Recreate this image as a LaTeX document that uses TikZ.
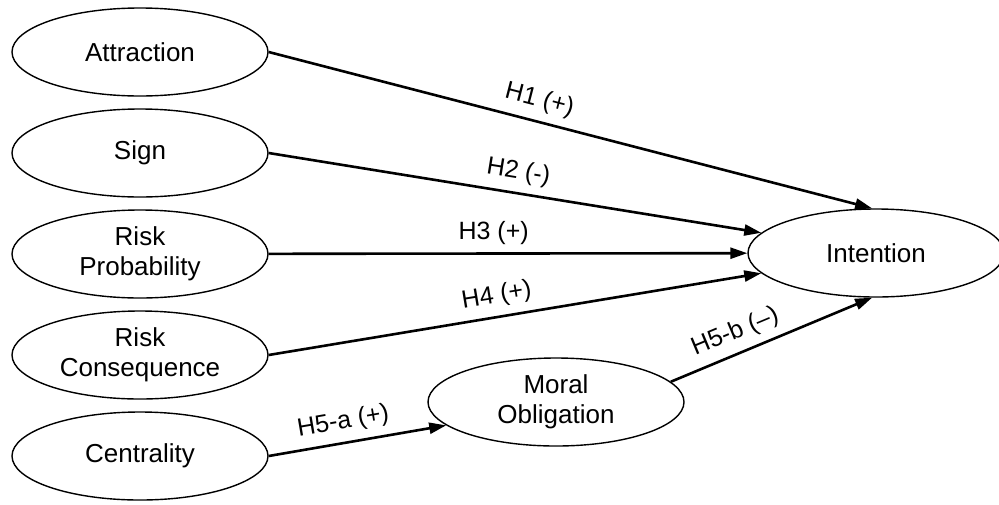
\documentclass[tikz,border=0pt]{standalone}
\usepackage{fontspec}
\setmainfont{Liberation Sans}
\usetikzlibrary{arrows.meta, positioning, shapes.geometric}

\begin{document}
\begin{tikzpicture}[
            x=0.5pt, y=-0.5pt,
            node distance=5.8pt,
            construct/.style={ellipse, draw=black, line width=0.7pt, fill=white,
                        minimum width=128pt, minimum height=44pt, inner sep=0pt,
                        align=center, font=\fontsize{13}{15}\selectfont},
            path/.style={-{Triangle[length=8.5pt, width=5.5pt]}, line width=1.3pt},
            hyp/.style={sloped, above, inner sep=4pt, font=\fontsize{12.5}{14}\selectfont}
        ]
            \useasboundingbox (0,0) rectangle (999,504);

            \node[construct] (attr) at (140,52) {Attraction};
            \node[construct, below=of attr] (sign) {Sign};
            \node[construct, below=of sign] (riskp) {Risk\\Probability};
            \node[construct, below=of riskp] (riskc) {Risk\\Consequence};
            \node[construct, below=of riskc] (centr) {Centrality};
            \node[construct] (moral) at (556,402) {Moral\\Obligation};
            \node[construct] (intent) at (876,253) {Intention};

            \draw[path] (attr.east) -- node[hyp, pos=0.44] {H1 (+)} (intent.95);
            \draw[path] (sign.east) -- node[hyp, pos=0.5] {H2 (-)} (intent.170);
            \draw[path] (riskp) -- node[hyp, pos=0.47] {H3 (+)} (intent);
            \draw[path] (riskc.east) -- node[hyp, pos=0.47] {H4 (+)} (intent.190);
            \draw[path] (centr.east) -- node[hyp, pos=0.44] {H5-a (+)} (moral.192);
            \draw[path] (moral.10) -- node[hyp, pos=0.36] {H5-b (--)} (intent.265);
        \end{tikzpicture}
\end{document}
